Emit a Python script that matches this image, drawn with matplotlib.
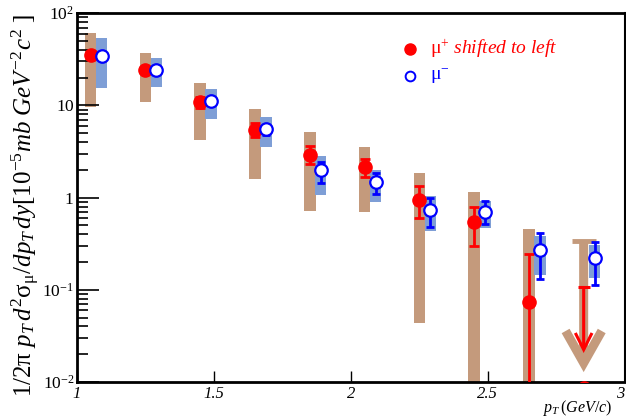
import matplotlib
matplotlib.use('Agg')
import matplotlib.pyplot as plt
from matplotlib.ticker import FixedLocator, FuncFormatter, LogLocator, NullFormatter
import numpy as np

plt.rcParams['font.family'] = ['Liberation Serif', 'DejaVu Serif']
plt.rcParams['mathtext.fontset'] = 'custom'
plt.rcParams['mathtext.rm'] = 'Liberation Serif'
plt.rcParams['mathtext.it'] = 'Liberation Serif:italic'
plt.rcParams['mathtext.bf'] = 'Liberation Serif:bold'

# ---- data ----
pt_plus = [1.05, 1.25, 1.45, 1.65, 1.85, 2.05, 2.25, 2.45, 2.65, 2.85]
pt_minus = [1.09, 1.29, 1.49, 1.69, 1.89, 2.09, 2.29, 2.49, 2.69, 2.89]

mup_y = [35.0, 24.0, 10.8, 5.35, 2.93, 2.17, 0.95, 0.548, 0.074, 0.0087]
mup_stat_lo = [33.0, 22.8, 9.3, 4.5, 2.34, 1.69, 0.606, 0.30, 0.005, np.nan]
mup_stat_hi = [37.0, 25.2, 12.3, 6.5, 3.67, 2.65, 1.32, 0.80, 0.246, np.nan]
mup_sys_lo = [9.5, 11.0, 4.17, 1.61, 0.72, 0.70, 0.0436, 0.005, 0.005, np.nan]
mup_sys_hi = [60.6, 36.7, 17.3, 9.04, 5.2, 3.58, 1.87, 1.16, 0.46, np.nan]

# upper limit for last mu+ bin (stat and sys), with arrow end values
mup_ul_stat = 0.108
mup_ul_stat_end = 0.0206
mup_ul_sys = 0.34
mup_ul_sys_end = 0.0128

mum_y = [34.0, 24.5, 11.3, 5.5, 1.97, 1.46, 0.74, 0.70, 0.27, 0.223]
mum_stat_lo = [32.5, 23.5, 10.6, 4.8, 1.45, 1.10, 0.484, 0.52, 0.132, 0.113]
mum_stat_hi = [35.5, 25.5, 12.0, 6.0, 2.46, 1.87, 1.00, 0.93, 0.41, 0.333]
mum_sys_lo = [15.3, 15.7, 7.2, 3.5, 1.08, 0.90, 0.43, 0.47, 0.146, 0.135]
mum_sys_hi = [53.5, 33.0, 14.9, 7.4, 2.86, 1.97, 1.05, 0.93, 0.386, 0.31]

xticks = [1, 1.5, 2, 2.5, 3]
xtick_labels = ['1', '1.5', '2', '2.5', '3']

# ---- styles ----
brown = '#C49A7C'
blue_box = '#7E9ED6'
red = '#FF0000'
blue = '#0000FF'
box_w = 0.042

fig = plt.figure(figsize=(6.26, 4.20), dpi=100)
ax = fig.add_axes([0.123, 0.0905, 0.875, 0.878])
ax.set_yscale('log')
ax.set_xlim(1, 3)
ax.set_ylim(1e-2, 1e2)

n = len(pt_plus)
# systematic boxes
for i in range(n):
    if not np.isnan(mup_sys_lo[i]):
        ax.bar(pt_plus[i], mup_sys_hi[i] - mup_sys_lo[i], bottom=mup_sys_lo[i],
               width=box_w, color=brown, edgecolor='none', zorder=1)
    ax.bar(pt_minus[i], mum_sys_hi[i] - mum_sys_lo[i], bottom=mum_sys_lo[i],
           width=box_w, color=blue_box, edgecolor='none', zorder=1)

# stat error bars
xp = np.array(pt_plus)
yp = np.array(mup_y)
lo = yp - np.array(mup_stat_lo)
hi = np.array(mup_stat_hi) - yp
mask = ~np.isnan(lo)
ax.errorbar(xp[mask], yp[mask], yerr=[lo[mask], hi[mask]], fmt='none',
            ecolor=red, elinewidth=2.0, capsize=3.5, capthick=2.0, zorder=3)
ax.plot(xp, yp, 'o', color=red, markersize=9.5, zorder=4)

xm = np.array(pt_minus)
ym = np.array(mum_y)
ax.errorbar(xm, ym, yerr=[ym - np.array(mum_stat_lo), np.array(mum_stat_hi) - ym],
            fmt='none', ecolor=blue, elinewidth=2.0, capsize=3.0, capthick=2.0, zorder=3)
ax.plot(xm, ym, 'o', markerfacecolor='white', markeredgecolor=blue,
        markeredgewidth=1.6, markersize=9, zorder=4)

# upper limit arrows (last mu+ bin)
xl = pt_plus[-1]
ax.annotate('', xy=(xl, mup_ul_sys_end), xytext=(xl, mup_ul_sys),
            arrowprops=dict(arrowstyle='->,head_length=23,head_width=13',
                            mutation_scale=1, lw=6.5, color=brown,
                            shrinkA=0, shrinkB=0, joinstyle='miter', capstyle='butt'),
            zorder=2)
ax.plot([xl], [mup_ul_sys], marker='_', markersize=17, markeredgewidth=3.5,
        color=brown, zorder=2)
ax.annotate('', xy=(xl, mup_ul_stat_end), xytext=(xl, mup_ul_stat),
            arrowprops=dict(arrowstyle='->,head_length=12,head_width=6',
                            mutation_scale=1, lw=2.2, color=red,
                            shrinkA=0, shrinkB=0, joinstyle='miter', capstyle='butt'),
            zorder=3)
ax.plot([xl], [mup_ul_stat], marker='_', markersize=8, markeredgewidth=2.2,
        color=red, zorder=3)

# axes styling
for side in ['left', 'bottom', 'top']:
    ax.spines[side].set_linewidth(2.0)
ax.spines['right'].set_linewidth(1.5)
ax.xaxis.set_major_locator(FixedLocator(xticks))
ax.set_xticklabels(xtick_labels, fontstyle='italic', fontsize=12)
ax.get_xticklabels()[-1].set_horizontalalignment('right')
ax.tick_params(axis='x', which='major', direction='in', length=8, width=1,
               top=False, pad=3)
ax.tick_params(axis='x', which='minor', bottom=False, top=False)
ax.yaxis.set_major_locator(LogLocator(base=10, numticks=10))
ax.yaxis.set_minor_locator(LogLocator(base=10, subs=np.arange(2, 10), numticks=10))
ax.yaxis.set_minor_formatter(NullFormatter())


def yfmt(v, pos):
    e = int(round(np.log10(v)))
    if e == 0:
        return r'$\it{1}$'
    if e == 1:
        return r'$\it{10}$'
    return r'$\it{10^{%d}}$' % e


ax.yaxis.set_major_formatter(FuncFormatter(yfmt))
ax.tick_params(axis='y', which='major', direction='in', length=16, width=1.2,
               right=False, labelsize=12.5, pad=2)
ax.tick_params(axis='y', which='minor', direction='in', length=8, width=1.2,
               right=False)

ax.set_ylabel(r'$\it{1/2}\mathrm{\pi}\ \it{p_{T}\,d^{2}}\mathrm{\sigma}_{\mathrm{\mu}}\it{/dp_{T}\,dy[10^{-5}mb\ GeV^{-2}c^{2}\ ]}$',
              fontsize=18)
ax.yaxis.set_label_coords(-0.064, 0.48)
ax.text(0.978, -0.098, r'$\it{p_{T}\,(GeV/c)}$', transform=ax.transAxes,
        ha='right', va='bottom', fontsize=11.5)

# legend
ax.plot([0.608], [0.904], 'o', color=red, markersize=8, transform=ax.transAxes,
        clip_on=False)
ax.text(0.645, 0.904, r'$\mathrm{\mu}^{+}$ $\it{shifted\ to\ left}$', color=red,
        transform=ax.transAxes, fontsize=14, va='center')
ax.plot([0.608], [0.83], 'o', markerfacecolor='white', markeredgecolor=blue,
        markeredgewidth=1.4, markersize=7, transform=ax.transAxes, clip_on=False)
ax.text(0.645, 0.83, r'$\mathrm{\mu}^{-}$', color=blue,
        transform=ax.transAxes, fontsize=14, va='center')

fig.savefig('out.png', dpi=100)
